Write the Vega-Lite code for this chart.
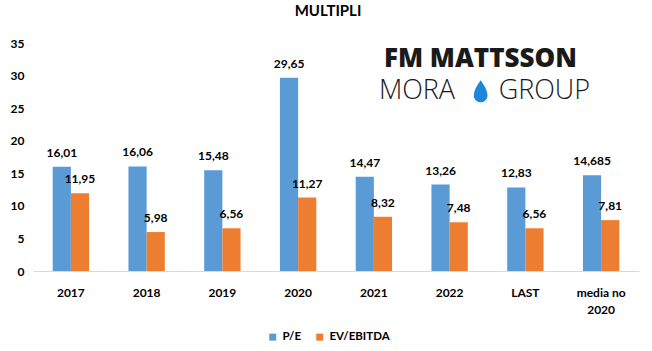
{
  "$schema": "https://vega.github.io/schema/vega-lite/v6.json",
  "width": 606,
  "height": 228,
  "autosize": {"type": "none"},
  "padding": {"left": 33, "top": 43, "right": 13, "bottom": 80},
  "background": "white",
  "config": {
    "font": "Lato",
    "view": {"stroke": null},
    "locale": {"number": {"decimal": ",", "thousands": ".", "grouping": [3], "currency": ["", " €"]}}
  },
  "title": {"text": "MULTIPLI", "fontSize": 15, "fontWeight": "bold", "font": "Lato", "color": "#000000", "offset": 18, "dx": -8},
  "datasets": {
    "bars": [
      {"cat": "2017", "serie": "P/E", "val": 16.01},
      {"cat": "2017", "serie": "EV/EBITDA", "val": 11.95},
      {"cat": "2018", "serie": "P/E", "val": 16.06},
      {"cat": "2018", "serie": "EV/EBITDA", "val": 5.98},
      {"cat": "2019", "serie": "P/E", "val": 15.48},
      {"cat": "2019", "serie": "EV/EBITDA", "val": 6.56},
      {"cat": "2020", "serie": "P/E", "val": 29.65},
      {"cat": "2020", "serie": "EV/EBITDA", "val": 11.27},
      {"cat": "2021", "serie": "P/E", "val": 14.47},
      {"cat": "2021", "serie": "EV/EBITDA", "val": 8.32},
      {"cat": "2022", "serie": "P/E", "val": 13.26},
      {"cat": "2022", "serie": "EV/EBITDA", "val": 7.48},
      {"cat": "LAST", "serie": "P/E", "val": 12.83},
      {"cat": "LAST", "serie": "EV/EBITDA", "val": 6.56},
      {"cat": "media no 2020", "serie": "P/E", "val": 14.685},
      {"cat": "media no 2020", "serie": "EV/EBITDA", "val": 7.81}
    ],
    "logo": [
      {"cat": "2021", "val": 32.5, "txt": "FM MATTSSON"},
      {"cat": "2021", "val": 27.6, "txt": "MORA"},
      {"cat": "2022", "val": 27.6, "txt": "GROUP"}
    ]
  },
  "encoding": {
    "x": {
      "field": "cat", "type": "nominal", "sort": null,
      "scale": {"paddingInner": 0.52, "paddingOuter": 0.26},
      "axis": {
        "title": null, "labelAngle": 0, "ticks": false, "domainColor": "#D9D9D9",
        "labelFontWeight": "bold", "labelFontSize": 12, "labelColor": "#000000", "labelPadding": 16,
        "labelExpr": "datum.label == 'media no 2020' ? ['media no', '2020'] : datum.label",
        "labelLineHeight": 17
      }
    },
    "y": {
      "field": "val", "type": "quantitative",
      "scale": {"domain": [0, 35]},
      "axis": {
        "title": null, "values": [0, 5, 10, 15, 20, 25, 30, 35], "labelOverlap": false, "grid": false, "ticks": false, "domain": false,
        "labelFontWeight": "bold", "labelFontSize": 12, "labelColor": "#000000", "labelPadding": 9
      }
    }
  },
  "layer": [
    {
      "data": {"name": "bars"},
      "mark": {"type": "bar"},
      "encoding": {
        "xOffset": {"field": "serie", "type": "nominal", "sort": ["P/E", "EV/EBITDA"]},
        "color": {
          "field": "serie", "type": "nominal", "sort": ["P/E", "EV/EBITDA"],
          "scale": {"domain": ["P/E", "EV/EBITDA"], "range": ["#5B9BD5", "#ED7D31"]},
          "legend": {
            "title": null, "orient": "none", "legendX": 234, "legendY": 288, "direction": "horizontal", "symbolType": "square",
            "symbolSize": 49, "labelFontSize": 11.5, "labelFontWeight": "bold", "labelColor": "#000000",
            "columnPadding": 12, "labelOffset": 4, "symbolStrokeWidth": 0
          }
        }
      }
    },
    {
      "data": {"name": "bars"},
      "mark": {"type": "text", "baseline": "bottom", "dy": -7, "fontWeight": "bold", "fontSize": 12, "color": "#000000"},
      "encoding": {
        "xOffset": {"field": "serie", "type": "nominal", "sort": ["P/E", "EV/EBITDA"]},
        "text": {"field": "val", "type": "quantitative", "format": "~f"}
      }
    },
    {
      "data": {"name": "logo"},
      "transform": [{"filter": "datum.txt == 'FM MATTSSON'"}],
      "mark": {"type": "text", "align": "left", "baseline": "middle", "dx": 10, "font": "Open Sans", "fontWeight": 800, "fontSize": 26, "color": "#1a1a1a", "letterSpacing": -0.8},
      "encoding": {
        "text": {"field": "txt"}
      }
    },
    {
      "data": {"name": "logo"},
      "transform": [{"filter": "datum.txt == 'MORA'"}],
      "mark": {"type": "text", "align": "left", "baseline": "middle", "dx": 5, "font": "Open Sans", "fontWeight": 300, "fontSize": 27, "color": "#1a1a1a"},
      "encoding": {
        "text": {"field": "txt"}
      }
    },
    {
      "data": {"name": "logo"},
      "transform": [{"filter": "datum.txt == 'GROUP'"}],
      "mark": {"type": "text", "align": "left", "baseline": "middle", "dx": 49, "font": "Open Sans", "fontWeight": 300, "fontSize": 27, "color": "#1a1a1a"},
      "encoding": {
        "text": {"field": "txt"}
      }
    },
    {
      "data": {"name": "logo"},
      "transform": [{"filter": "datum.txt == 'GROUP'"}],
      "mark": {"type": "point", "filled": true, "color": "#1E88D6", "opacity": 1, "size": 484,
        "shape": "M2.82,-1 C3.2,-0.45 3.44,-0.05 3.44,0.38 A0.62,0.62 0 1 1 2.2,0.38 C2.2,-0.05 2.44,-0.45 2.82,-1 Z"},
      "encoding": {}
    }
  ]
}
